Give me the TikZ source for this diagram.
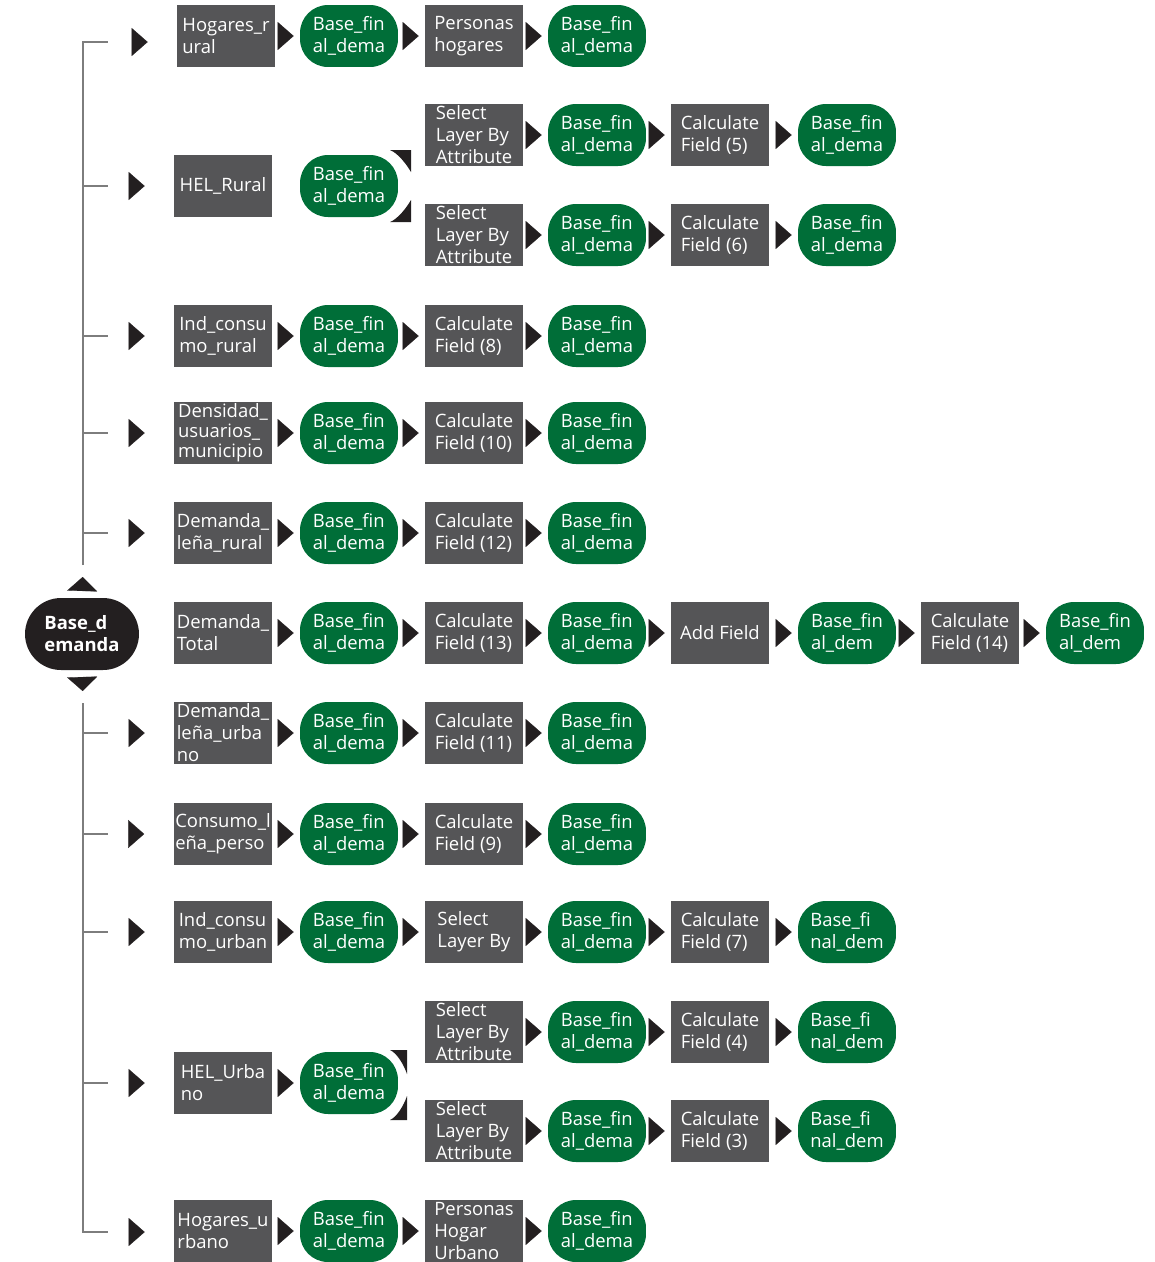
\documentclass[tikz,border=0pt]{standalone}
\usepackage{fontspec}
\setmainfont{Open Sans}
\usepackage{tikz}
\usetikzlibrary{arrows.meta,calc,positioning}
\definecolor{toolgray}{RGB}{85,85,87}
\definecolor{datagreen}{RGB}{0,110,56}
\definecolor{tipblack}{RGB}{35,31,32}
\definecolor{linegray}{RGB}{125,125,125}
\tikzset{
  tool/.style={fill=toolgray,text=white,minimum width=1.96cm,minimum height=1.24cm,inner xsep=1pt,inner ysep=0pt,align=left,font=\fontsize{10.5}{12.5}\selectfont},
  data/.style={fill=datagreen,text=white,rounded corners=0.56cm,minimum width=1.96cm,minimum height=1.24cm,inner sep=0pt,align=left,font=\fontsize{10.5}{12.5}\selectfont},
  tri/.style={draw=white,line width=0.1pt,-{Triangle[length=0.32cm,width=0.56cm,color=tipblack,fill=tipblack]},shorten <=0.08cm,shorten >=0.12cm},
  ltri/.style={tri,shorten <=0.4cm,shorten >=0.58cm},
  vtri/.style={draw=white,line width=0.1pt,-{Triangle[length=0.28cm,width=0.6cm,color=tipblack,fill=tipblack]},shorten <=0.14cm,shorten >=0.24cm},
  bracket/.style={draw=linegray,line width=1.6pt},
}
\begin{document}
\begin{tikzpicture}[x=0.02cm,y=-0.02cm]
\useasboundingbox (0,0) rectangle (1155,1262);
\node[fill=tipblack,text=white,rounded corners=0.72cm,minimum width=2.28cm,minimum height=1.44cm,inner sep=0pt,align=left,font=\fontsize{10.5}{12.5}\selectfont\bfseries] (bd) at (82,634) {Base\_d\\emanda};
\coordinate (up) at (83,565);
\coordinate (dn) at (83,703);
\draw[vtri] (bd.north) -- (up);
\draw[vtri] (bd.south) -- (dn);

% row 1
\node[tool] (in1) at (226,36) {Hogares\_r\\ural};
\node[data] (bf1) at (349,36) {Base\_fin\\al\_dema};
\node[tool] (op1) at (474,36) {Personas\\hogares};
\node[data] (bg1) at (597,36) {Base\_fin\\al\_dema};
\draw[tri] (in1) -- (bf1);
\draw[tri] (bf1) -- (op1);
\draw[tri] (op1) -- (bg1);

% row 2
\node[tool] (in2) at (223,186) {HEL\_Rural};
\node[data] (bf2) at (349,186) {Base\_fin\\al\_dema};
\node[tool] (op2a) at (474,135) {Select\\Layer By\\Attribute};
\node[data] (bg2a) at (597,135) {Base\_fin\\al\_dema};
\node[tool] (cf2a) at (720,135) {Calculate\\Field (5)};
\node[data] (bh2a) at (847,135) {Base\_fin\\al\_dema};
\node[tool] (op2b) at (474,235) {Select\\Layer By\\Attribute};
\node[data] (bg2b) at (597,235) {Base\_fin\\al\_dema};
\node[tool] (cf2b) at (720,235) {Calculate\\Field (6)};
\node[data] (bh2b) at (847,235) {Base\_fin\\al\_dema};
\draw[tri] (op2a) -- (bg2a);
\draw[tri] (bg2a) -- (cf2a);
\draw[tri] (cf2a) -- (bh2a);
\draw[tri] (op2b) -- (bg2b);
\draw[tri] (bg2b) -- (cf2b);
\draw[tri] (cf2b) -- (bh2b);
\fill[tipblack] ($(bf2.center)+(41,-36)$) -- ++(21,0) -- ++(0,22) .. controls ($(bf2.center)+(58,-21)$) and ($(bf2.center)+(49,-33)$) .. cycle;
\fill[tipblack] ($(bf2.center)+(41,36)$) -- ++(21,0) -- ++(0,-22) .. controls ($(bf2.center)+(58,21)$) and ($(bf2.center)+(49,33)$) .. cycle;

% row 3
\node[tool] (in3) at (223,336) {Ind\_consu\\mo\_rural};
\node[data] (bf3) at (349,336) {Base\_fin\\al\_dema};
\node[tool] (op3) at (474,336) {Calculate\\Field (8)};
\node[data] (bg3) at (597,336) {Base\_fin\\al\_dema};
\draw[tri] (in3) -- (bf3);
\draw[tri] (bf3) -- (op3);
\draw[tri] (op3) -- (bg3);

% row 4
\node[tool,font=\fontsize{10.5}{11.4}\selectfont] (in4) at (223,433) {Densidad\_\\usuarios\_\\municipio};
\node[data] (bf4) at (349,433) {Base\_fin\\al\_dema};
\node[tool] (op4) at (474,433) {Calculate\\Field (10)};
\node[data] (bg4) at (597,433) {Base\_fin\\al\_dema};
\draw[tri] (in4) -- (bf4);
\draw[tri] (bf4) -- (op4);
\draw[tri] (op4) -- (bg4);

% row 5
\node[tool] (in5) at (223,533) {Demanda\_\\leña\_rural};
\node[data] (bf5) at (349,533) {Base\_fin\\al\_dema};
\node[tool] (op5) at (474,533) {Calculate\\Field (12)};
\node[data] (bg5) at (597,533) {Base\_fin\\al\_dema};
\draw[tri] (in5) -- (bf5);
\draw[tri] (bf5) -- (op5);
\draw[tri] (op5) -- (bg5);

% row 6
\node[tool] (in6) at (223,633) {Demanda\_\\Total};
\node[data] (bf6) at (349,633) {Base\_fin\\al\_dema};
\node[tool] (op6) at (474,633) {Calculate\\Field (13)};
\node[data] (bg6) at (597,633) {Base\_fin\\al\_dema};
\node[tool] (cf6) at (720,633) {Add Field};
\node[data] (bh6) at (847,633) {Base\_fin\\al\_dem};
\node[tool] (ck6) at (970,633) {Calculate\\Field (14)};
\node[data] (bk6) at (1095,633) {Base\_fin\\al\_dem};
\draw[tri] (in6) -- (bf6);
\draw[tri] (bf6) -- (op6);
\draw[tri] (op6) -- (bg6);
\draw[tri] (bg6) -- (cf6);
\draw[tri] (cf6) -- (bh6);
\draw[tri] (bh6) -- (ck6);
\draw[tri] (ck6) -- (bk6);

% row 7
\node[tool] (in7) at (223,733) {Demanda\_\\leña\_urba\\no};
\node[data] (bf7) at (349,733) {Base\_fin\\al\_dema};
\node[tool] (op7) at (474,733) {Calculate\\Field (11)};
\node[data] (bg7) at (597,733) {Base\_fin\\al\_dema};
\draw[tri] (in7) -- (bf7);
\draw[tri] (bf7) -- (op7);
\draw[tri] (op7) -- (bg7);

% row 8
\node[tool] (in8) at (223,834) {Consumo\_l\\eña\_perso};
\node[data] (bf8) at (349,834) {Base\_fin\\al\_dema};
\node[tool] (op8) at (474,834) {Calculate\\Field (9)};
\node[data] (bg8) at (597,834) {Base\_fin\\al\_dema};
\draw[tri] (in8) -- (bf8);
\draw[tri] (bf8) -- (op8);
\draw[tri] (op8) -- (bg8);

% row 9
\node[tool] (in9) at (223,932) {Ind\_consu\\mo\_urban};
\node[data] (bf9) at (349,932) {Base\_fin\\al\_dema};
\node[tool] (op9) at (474,932) {Select\\Layer By};
\node[data] (bg9) at (597,932) {Base\_fin\\al\_dema};
\node[tool] (cf9) at (720,932) {Calculate\\Field (7)};
\node[data] (bh9) at (847,932) {Base\_fi\\nal\_dem};
\draw[tri] (in9) -- (bf9);
\draw[tri] (bf9) -- (op9);
\draw[tri] (op9) -- (bg9);
\draw[tri] (bg9) -- (cf9);
\draw[tri] (cf9) -- (bh9);

% row 10
\node[tool] (in10) at (223,1083) {HEL\_Urba\\no};
\node[data] (bf10) at (349,1083) {Base\_fin\\al\_dema};
\node[tool] (op10a) at (474,1032) {Select\\Layer By\\Attribute};
\node[data] (bg10a) at (597,1032) {Base\_fin\\al\_dema};
\node[tool] (cf10a) at (720,1032) {Calculate\\Field (4)};
\node[data] (bh10a) at (847,1032) {Base\_fi\\nal\_dem};
\node[tool] (op10b) at (474,1131) {Select\\Layer By\\Attribute};
\node[data] (bg10b) at (597,1131) {Base\_fin\\al\_dema};
\node[tool] (cf10b) at (720,1131) {Calculate\\Field (3)};
\node[data] (bh10b) at (847,1131) {Base\_fi\\nal\_dem};
\draw[tri] (in10) -- (bf10);
\draw[tri] (op10a) -- (bg10a);
\draw[tri] (bg10a) -- (cf10a);
\draw[tri] (cf10a) -- (bh10a);
\draw[tri] (op10b) -- (bg10b);
\draw[tri] (bg10b) -- (cf10b);
\draw[tri] (cf10b) -- (bh10b);
\fill[tipblack] ($(bf10.center)+(41,-33)$) -- ++(17,0) -- ++(0,24) .. controls ($(bf10.center)+(55,-18)$) and ($(bf10.center)+(48,-30)$) .. cycle;
\fill[tipblack] ($(bf10.center)+(41,37)$) -- ++(17,0) -- ++(0,-24) .. controls ($(bf10.center)+(55,22)$) and ($(bf10.center)+(48,34)$) .. cycle;

% row 11
\node[tool] (in11) at (223,1231) {Hogares\_u\\rbano};
\node[data] (bf11) at (349,1231) {Base\_fin\\al\_dema};
\node[tool] (op11) at (474,1231) {Personas\\Hogar\\Urbano};
\node[data] (bg11) at (597,1231) {Base\_fin\\al\_dema};
\draw[tri] (in11) -- (bf11);
\draw[tri] (bf11) -- (op11);
\draw[tri] (op11) -- (bg11);

% bracket
\coordinate (t1) at (108,42);
\coordinate (t2) at (108,186);
\coordinate (t3) at (108,336);
\coordinate (t4) at (108,433);
\coordinate (t5) at (108,533);
\coordinate (t7) at (108,733);
\coordinate (t8) at (108,834);
\coordinate (t9) at (108,932);
\coordinate (t10) at (108,1083);
\coordinate (t11) at (108,1232);
\draw[bracket] (up) |- (t1);
\draw[bracket] (dn) |- (t11);
\foreach \r in {2,3,4,5,7,8,9,10}
  \draw[bracket] (t\r -| up) -- (t\r);
\foreach \r in {1,2,3,4,5,7,8,9,10,11}
  \draw[ltri] (t\r) -- (t\r -| in\r.west);
\end{tikzpicture}
\end{document}
